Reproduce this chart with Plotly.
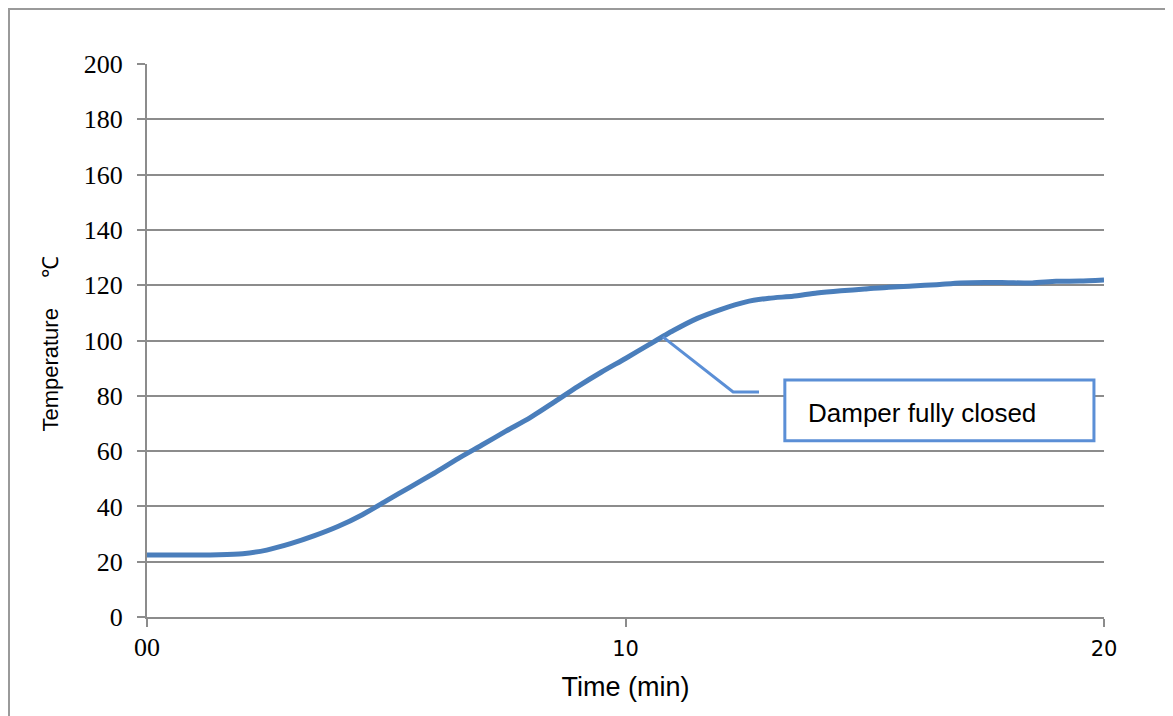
import plotly.graph_objects as go

# ---- data ----
time_min = [0, 0.5, 1, 1.5, 2, 2.5, 3, 3.5, 4, 4.5, 5, 5.5, 6, 6.5, 7, 7.5, 8, 8.5,
            9, 9.5, 10, 10.5, 11, 11.5, 12, 12.5, 13, 13.5, 14, 14.5, 15, 15.5,
            16, 16.5, 17, 17.5, 18, 18.5, 19, 19.5, 20]
temperature = [22.4, 22.4, 22.4, 22.5, 22.9, 24.2, 26.5, 29.4, 32.8, 37.0, 42.0,
               47.0, 52.0, 57.3, 62.2, 67.2, 72.0, 77.6, 83.3, 88.6, 93.5, 98.6,
               103.6, 108.0, 111.3, 113.9, 115.3, 116.0, 117.2, 118.0, 118.6, 119.3,
               119.7, 120.2, 120.8, 121.0, 120.9, 120.8, 121.4, 121.5, 121.9]

x_tick_vals = [0, 10, 20]
x_tick_text = ["00", "10", "20"]
y_tick_vals = [0, 20, 40, 60, 80, 100, 120, 140, 160, 180, 200]

callout_x = [10.78, 12.25, 12.79]
callout_y = [101.3, 81.4, 81.4]
callout_text = "Damper fully closed"
box_x = [13.33, 19.79]
box_y = [63.7, 85.7]

fig = go.Figure()

fig.add_trace(go.Scatter(
    x=time_min, y=temperature, mode="lines",
    line=dict(color="#4a7ebb", width=5, shape="spline", smoothing=0.6),
    showlegend=False, hoverinfo="skip"))

fig.add_trace(go.Scatter(
    x=callout_x, y=callout_y, mode="lines",
    line=dict(color="#5b8fd6", width=3),
    showlegend=False, hoverinfo="skip"))

fig.add_shape(type="rect", xref="x", yref="y",
              x0=box_x[0], x1=box_x[1], y0=box_y[0], y1=box_y[1],
              line=dict(color="#5b8fd6", width=3), fillcolor="white", layer="above")

fig.add_annotation(x=box_x[0] + 0.44, y=(box_y[0] + box_y[1]) / 2 - 0.8,
                   xref="x", yref="y", text=callout_text, showarrow=False,
                   xanchor="left", yanchor="middle",
                   font=dict(family="Liberation Sans", size=26, color="black"))

# outer chart border
fig.add_shape(type="rect", xref="paper", yref="paper",
              x0=-0.1442, x1=1.069, y0=-0.3, y1=1.0995,
              line=dict(color="#9a9a9a", width=2), layer="below")

ticktext = ['<span style="font-family:Liberation Serif;font-size:26px">'
            + x_tick_text[0] + '</span>'] + x_tick_text[1:]

fig.update_layout(
    width=1173, height=716,
    margin=dict(l=139, r=77, t=56, b=107),
    paper_bgcolor="white", plot_bgcolor="white",
    xaxis=dict(
        range=[0, 20], tickvals=x_tick_vals, ticktext=ticktext,
        showgrid=False, zeroline=False, automargin=False,
        showline=True, linecolor="#8c8c8c", linewidth=2,
        ticks="outside", ticklen=8, tickwidth=2, tickcolor="#8c8c8c",
        ticklabelstandoff=4,
        tickfont=dict(family="DejaVu Sans", size=21, color="black"),
        title=dict(text="Time (min)", standoff=16,
                   font=dict(family="Liberation Sans", size=27, color="black")),
    ),
    yaxis=dict(
        range=[0, 200], tickvals=y_tick_vals,
        showgrid=True, gridcolor="#8c8c8c", gridwidth=2,
        zeroline=False, automargin=False,
        showline=True, linecolor="#8c8c8c", linewidth=2,
        ticks="outside", ticklen=8, tickwidth=2, tickcolor="#8c8c8c",
        ticklabelstandoff=9,
        tickfont=dict(family="Liberation Serif", size=26, color="black"),
        title=dict(text="Temperature&nbsp;&nbsp;&nbsp;&nbsp;&nbsp;℃&nbsp;", standoff=19,
                   font=dict(family="Liberation Sans", size=22, color="black")),
    ),
)

fig.write_html("out.html")
